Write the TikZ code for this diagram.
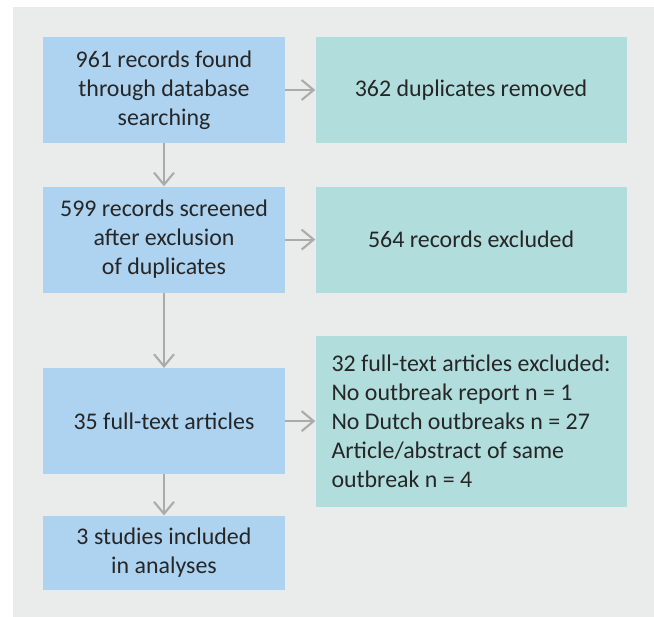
\documentclass[tikz,border=0pt]{standalone}
\usepackage{fontspec}
\setmainfont{Carlito}
\usetikzlibrary{arrows.meta, positioning}
\definecolor{cblue}{HTML}{AED3F0}
\definecolor{cteal}{HTML}{B1DEDD}
\definecolor{cpanel}{HTML}{E9ECEB}
\definecolor{cgrey}{HTML}{ABABAB}
\definecolor{ctext}{HTML}{262626}
\tikzset{
  every picture/.style={font=\fontsize{17}{20.6}\selectfont, text=ctext},
  box/.style={fill=#1, align=center, inner sep=0pt, minimum height=2.65cm},
  box/.default=cblue,
  stepbox/.style={box=cblue, minimum width=6.05cm},
  outbox/.style={box=cteal, minimum width=7.775cm},
  arrow/.style={-{Straight Barb[length=3mm, width=5mm]}, draw=cgrey, line width=1.5pt},
}
\begin{document}
\begin{tikzpicture}
  \useasboundingbox (0,0) rectangle (16.35,-15.4);
  \fill[cpanel] (0.325,-0.175) rectangle (16.4,-15.45);
  % main flow
  \node[stepbox] (found) at (4.1,-2.25) {961 records found\\through database\\searching};
  \node[stepbox, below=1.075cm of found] (screened) {599 records screened\\after exclusion\\of duplicates};
  \node[stepbox, below=1.875cm of screened] (fulltext) {35 full-text articles};
  \node[stepbox, below=1.025cm of fulltext, minimum height=1.85cm] (included) {3 studies included\\in analyses};
  % excluded
  \node[outbox, right=0.75cm of found] (dupl) {362 duplicates removed};
  \node[outbox, right=0.75cm of screened] (excl) {564 records excluded};
  \node[outbox, right=0.75cm of fulltext, minimum height=4.275cm, align=left] (ftexcl) {32 full-text articles excluded:\\No outbreak report n = 1\\No Dutch outbreaks n = 27\\Article/abstract of same\\outbreak n = 4};
  \draw[arrow] (found) -- (screened);
  \draw[arrow] (screened) -- (fulltext);
  \draw[arrow] (fulltext) -- (included);
  \draw[arrow] (found) -- (dupl);
  \draw[arrow] (screened) -- (excl);
  \draw[arrow] (fulltext) -- (ftexcl);
\end{tikzpicture}
\end{document}
